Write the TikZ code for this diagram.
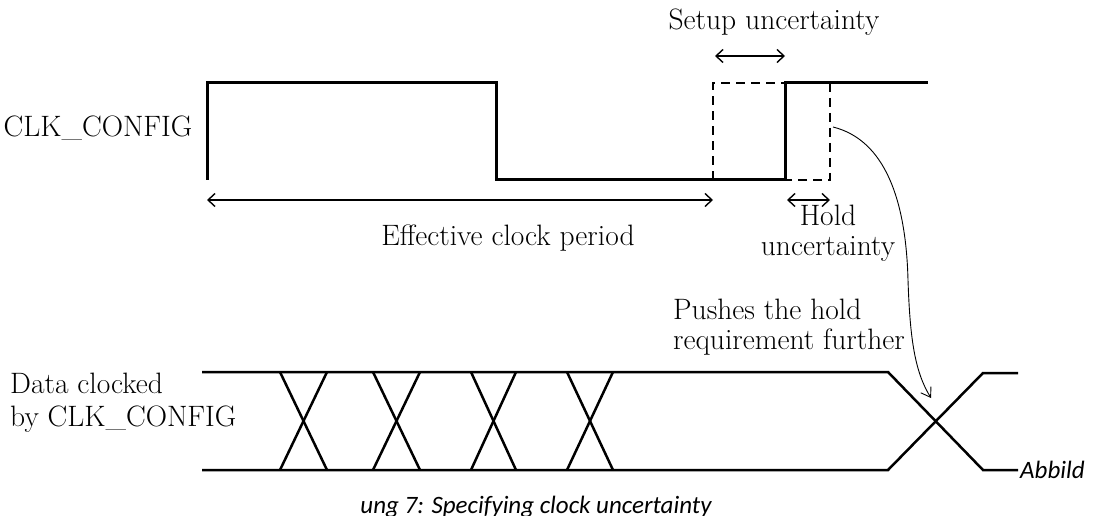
\documentclass[tikz,border=0pt]{standalone}
\usepackage{fontspec}
\usetikzlibrary{arrows.meta}
\newfontfamily\capfont{Carlito}
\begin{document}
\begin{tikzpicture}[x=1pt,y=-1pt,
  wave/.style={line width=3pt,line join=miter},
  dwave/.style={line width=2.2pt,dash pattern=on 9pt off 6pt},
  dataline/.style={line width=2.5pt},
  dim/.style={line width=1.4pt,{Straight Barb[length=7pt,width=13pt]}-{Straight Barb[length=7pt,width=13pt]}},
  curv/.style={line width=0.9pt,-{Straight Barb[length=9pt,width=12pt]}},
  lbl/.style={font=\fontsize{29.5}{30}\selectfont,inner sep=0pt},
  captext/.style={font=\capfont\itshape\fontsize{25}{28}\selectfont,inner sep=0pt}]
\useasboundingbox (0,0) rectangle (1096,516);
% clock waveform
\coordinate (c0) at (207,180);
\coordinate (c1) at (207,83);
\coordinate (c2) at (496,83);
\coordinate (c3) at (496,180);
\coordinate (c4) at (785,180);
\coordinate (c5) at (785,83);
\coordinate (c6) at (928,83);
\draw[wave] (c0) -- (c1) -- (c2) -- (c3) -- (c4) -- (c5) -- (c6);
% uncertainty windows
\coordinate (s0) at (713,180);
\coordinate (s1) at (713,83);
\coordinate (h0) at (830,83);
\coordinate (h1) at (830,180);
\draw[dwave] (s0) -- (s1) -- (c5);
\draw[dwave] (h0) -- (h1) -- (c4);
% dimension arrows
\coordinate (e0) at (207,200);
\coordinate (e1) at (713,200);
\draw[dim] (e0) -- (e1);
\coordinate (ho0) at (787,200);
\coordinate (ho1) at (830,200);
\draw[dim] (ho0) -- (ho1);
\coordinate (su0) at (715,56);
\coordinate (su1) at (785,56);
\draw[dim] (su0) -- (su1);
% labels
\node[lbl] (setup) at (774,22) {Setup uncertainty};
\node[lbl] (clk) at (98,128) {CLK\_CONFIG};
\node[lbl] (eff) at (508,238) {Effective clock period};
\node[lbl,align=center] (hold) at (828,233) {Hold\\uncertainty};
\node[lbl,align=left,anchor=west] (push) at (673,327) {Pushes the hold\\requirement further};
\node[lbl,align=left,anchor=west,font=\fontsize{29.5}{33}\selectfont] (data) at (10,403) {Data clocked\\by CLK\_CONFIG};
% data waveform
\coordinate (t0) at (202,372);
\coordinate (t1) at (888,372);
\coordinate (t2) at (983,470);
\coordinate (t3) at (1018,470);
\coordinate (b0) at (202,470);
\coordinate (b1) at (888,470);
\coordinate (b2) at (983,373);
\coordinate (b3) at (1018,373);
\draw[dataline] (t0) -- (t1) -- (t2) -- (t3);
\draw[dataline] (b0) -- (b1) -- (b2) -- (b3);
\foreach \a/\b in {280/327,373/420,471/516,567/613}{
  \draw[dataline] (\a,372) -- (\b,470);
  \draw[dataline] (\b,372) -- (\a,470);
}
% curved arrow
\coordinate (ca) at (833,127);
\coordinate (cb) at (908,280);
\coordinate (cc) at (931,398);
\draw[curv] (ca) .. controls (885,140) and (906,200) .. (cb) .. controls (910,340) and (915,372) .. (cc);
% caption texts
\node[captext,anchor=west] (abb) at (1020,470) {Abbild};
\node[captext,anchor=base] (caption) at (536,513) {ung 7: Specifying clock uncertainty};
\end{tikzpicture}
\end{document}
